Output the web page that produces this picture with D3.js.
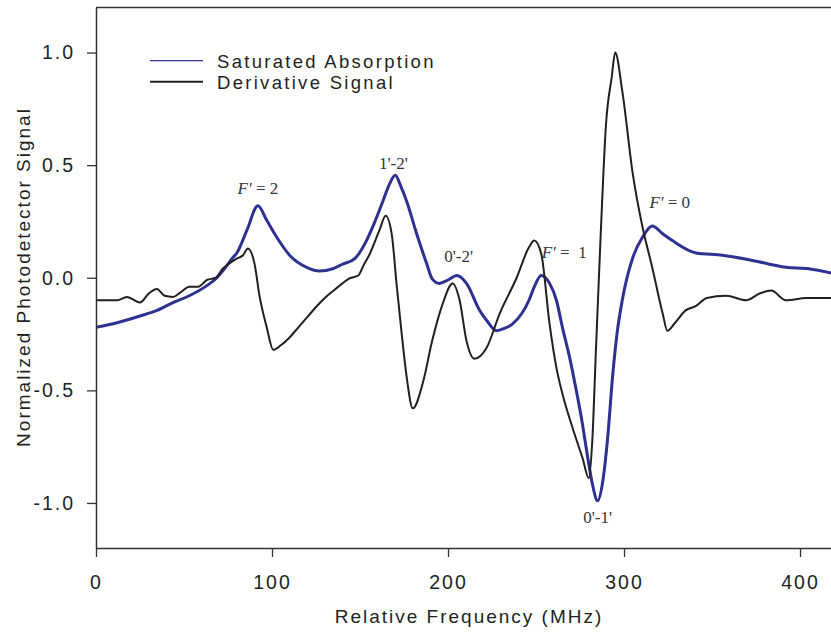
<!DOCTYPE html>
<html>
<head>
<meta charset="utf-8">
<script src="https://cdn.jsdelivr.net/npm/d3@7"></script>
<style>
  body { margin: 0; background: #fff; }
  text { font-family: "Liberation Sans", Arial, sans-serif; }
</style>
</head>
<body>
<svg id="chart" width="831" height="633"></svg>
<script>
// saturated absorption trace (MHz, normalized signal)
var absFreq = [0, 12, 25, 34.6, 43.7, 53, 63, 68.7, 72, 77.8, 80, 85.7, 92, 97, 102.7, 110, 120, 127,
  134.5, 140, 147, 153.7, 158, 163, 167, 170, 173.5, 176.5, 182, 188, 191, 195, 200, 205, 210.5, 218,
  222, 227.6, 232, 236.7, 246, 249, 253, 257.7, 261.6, 265, 269, 272.5, 276.4, 279, 282, 285, 288,
  290.6, 293.6, 296, 299, 305, 310.5, 316, 322, 327.5, 341, 356, 373, 392, 405, 418];
var absSignal = [-0.22, -0.2, -0.17, -0.145, -0.11, -0.08, -0.035, 0.0, 0.03, 0.09, 0.11, 0.21, 0.32, 0.255, 0.18, 0.10, 0.045, 0.03,
  0.04, 0.06, 0.085, 0.165, 0.24, 0.34, 0.42, 0.455, 0.40, 0.34, 0.20, 0.06, -0.005, -0.025, -0.01, 0.01, -0.025, -0.145,
  -0.19, -0.235, -0.225, -0.205, -0.10, -0.04, 0.01, -0.025, -0.10, -0.22, -0.35, -0.485, -0.65, -0.78, -0.915, -0.99, -0.90,
  -0.72, -0.43, -0.25, -0.10, 0.09, 0.18, 0.23, 0.195, 0.165, 0.11, 0.10, 0.077, 0.047, 0.04, 0.02];

// derivative signal trace
var derFreq = [0, 5, 12, 17.6, 25, 30, 34.6, 39, 43.7, 48, 53, 58, 63, 68, 72, 76, 80, 83.5, 86.3, 90, 93, 97, 100.7,
  105, 110, 115, 120, 125, 130, 134.5, 140, 144, 149, 152, 155.5, 161, 164.6, 168, 170.8, 173.7, 176.5, 180, 185.6,
  191, 197, 202.6, 206.6, 210.5, 215, 222, 229.3, 239, 246, 249, 253, 257.7, 261.6, 265, 270.7, 276.4, 280, 282,
  284, 286.6, 289.8, 293, 295, 299, 305, 310.5, 316, 322, 324.6, 329, 335, 341, 347, 358, 369.5, 377, 383.7, 392, 403.5, 418];
var derSignal = [-0.10, -0.10, -0.10, -0.085, -0.11, -0.07, -0.05, -0.08, -0.085, -0.065, -0.04, -0.04, -0.01, 0.0, 0.04, 0.065, 0.085, 0.10, 0.13, 0.065, -0.085, -0.22, -0.32,
  -0.30, -0.265, -0.22, -0.175, -0.13, -0.09, -0.06, -0.025, -0.003, 0.01, 0.055, 0.105, 0.21, 0.275, 0.195, -0.03, -0.25, -0.44, -0.58, -0.47,
  -0.28, -0.115, -0.025, -0.10, -0.28, -0.36, -0.31, -0.16, 0.0, 0.135, 0.165, 0.105, -0.205, -0.40, -0.515, -0.665, -0.80, -0.89, -0.72,
  -0.33, 0.165, 0.685, 0.89, 1.0, 0.83, 0.46, 0.225, 0.047, -0.16, -0.235, -0.2, -0.145, -0.125, -0.09, -0.08, -0.10, -0.07, -0.057, -0.10, -0.09, -0.09];

var xTicks = [0, 100, 200, 300, 400];
var yTicks = [-1.0, -0.5, 0.0, 0.5, 1.0];

// peak labels: [freq, signal, text]
var peakLabels = [
  [92, 0.37, "F′ = 2"],
  [169, 0.485, "1'-2'"],
  [206, 0.07, "0'-2'"],
  [266, 0.087, "F′ =  1"],
  [326, 0.31, "F′ = 0"],
  [285, -1.09, "0'-1'"]
];

var svg = d3.select("#chart");
var mLeft = 96, mTop = 7.5, mRight = 831, mBottom = 548;
var ink = "#231f20";

var x = d3.scaleLinear().domain([0, 417.6]).range([mLeft, mRight]);
var y = d3.scaleLinear().domain([-1.2, 1.2]).range([mBottom, mTop]);

svg.append("clipPath").attr("id", "clip")
  .append("rect").attr("x", mLeft).attr("y", mTop).attr("width", mRight - mLeft).attr("height", mBottom - mTop);

function series(fr, vals) {
  return fr.map(function(f, i) { return [f, vals[i]]; });
}

var line = d3.line()
  .x(function(d) { return x(d[0]); })
  .y(function(d) { return y(d[1]); })
  .curve(d3.curveMonotoneX);

var plot = svg.append("g").attr("clip-path", "url(#clip)");

plot.append("path")
  .datum(series(absFreq, absSignal))
  .attr("fill", "none")
  .attr("stroke", "#2e3192")
  .attr("stroke-width", 3)
  .attr("d", line);

plot.append("path")
  .datum(series(derFreq, derSignal))
  .attr("fill", "none")
  .attr("stroke", ink)
  .attr("stroke-width", 2)
  .attr("d", line);

// axes
var xAxis = svg.append("g").attr("transform", "translate(0," + mBottom + ")")
  .call(d3.axisBottom(x).tickValues(xTicks).tickSize(9).tickSizeOuter(0).tickPadding(18).tickFormat(d3.format("d")));
var yAxis = svg.append("g").attr("transform", "translate(" + mLeft + ",0)")
  .call(d3.axisLeft(y).tickValues(yTicks).tickSize(9).tickSizeOuter(0).tickPadding(12).tickFormat(d3.format(".1f")));

[xAxis, yAxis].forEach(function(a) {
  a.select(".domain").attr("stroke", "#333").attr("stroke-width", 1.5);
  a.selectAll(".tick line").attr("stroke", "#333").attr("stroke-width", 1.3);
  a.selectAll(".tick text")
    .attr("fill", ink)
    .style("font-family", "'Liberation Sans', Arial, sans-serif")
    .style("font-size", "19.5px")
    .style("letter-spacing", "2px");
});
yAxis.selectAll(".tick text").text(function(d) { return d3.format(".1f")(d).replace("−", "-"); });

// top frame line
svg.append("line")
  .attr("x1", mLeft).attr("x2", mRight).attr("y1", mTop).attr("y2", mTop)
  .attr("stroke", "#333").attr("stroke-width", 1.5);

// axis titles
svg.append("text")
  .attr("x", 469).attr("y", 623)
  .attr("text-anchor", "middle")
  .attr("fill", ink)
  .style("font-size", "19px").style("letter-spacing", "2px")
  .text("Relative Frequency (MHz)");

svg.append("text")
  .attr("transform", "translate(30,277) rotate(-90)")
  .attr("text-anchor", "middle")
  .attr("fill", ink)
  .style("font-size", "19px").style("letter-spacing", "2px")
  .text("Normalized Photodetector Signal");

// legend
var legend = svg.append("g");
var legendItems = [["Saturated Absorption", "#2e3192", 1.2, 60.7, 68], ["Derivative Signal", ink, 2, 81.7, 89]];
legendItems.forEach(function(it) {
  legend.append("line")
    .attr("x1", 150).attr("x2", 203).attr("y1", it[3]).attr("y2", it[3])
    .attr("stroke", it[1]).attr("stroke-width", it[2]);
  legend.append("text")
    .attr("x", 217).attr("y", it[4])
    .attr("fill", ink)
    .style("font-size", "18.5px").style("letter-spacing", "2.3px")
    .text(it[0]);
});

// peak annotations
peakLabels.forEach(function(p) {
  var t = svg.append("text")
    .attr("x", x(p[0])).attr("y", y(p[1]))
    .attr("text-anchor", "middle")
    .attr("fill", "#333")
    .style("font-family", "'Liberation Serif', 'Times New Roman', serif")
    .style("font-size", "17px")
    .style("white-space", "pre");
  if (p[2].indexOf("F") === 0) {
    t.append("tspan").style("font-style", "italic").text("F′");
    t.append("tspan").text(p[2].slice(2));
  } else {
    t.text(p[2]);
  }
});
</script>
</body>
</html>
